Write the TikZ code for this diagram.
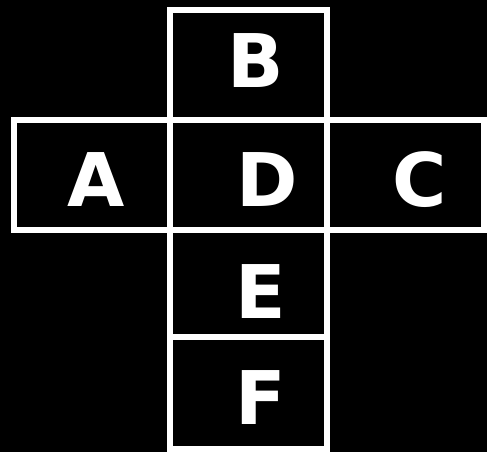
\documentclass[tikz,border=0pt]{standalone}
\usepackage{fontspec}
\setmainfont{DejaVu Sans}
\begin{document}
\begin{tikzpicture}[x=1pt,y=-1pt,
  cell/.style={draw=white,line width=6pt},
  letter/.style={text=white,inner sep=0pt,font=\bfseries\fontsize{74}{74}\selectfont}]
\fill[black] (0,0) rectangle (487,452);
\useasboundingbox (0,0) rectangle (487,452);
\draw[cell] (170,10) rectangle (327,120);
\draw[cell] (13.5,120) rectangle (170,230);
\draw[cell] (170,120) rectangle (327,230);
\draw[cell] (327,120) rectangle (484,230);
\draw[cell] (170,230) rectangle (327,337);
\draw[cell] (170,337) rectangle (327,449);
\node[letter] (b) at (255.5,60.5) {B};
\node[letter] (a) at (96,179.5) {A};
\node[letter] (d) at (267,179.5) {D};
\node[letter] (c) at (420,179.5) {C};
\node[letter] (e) at (261,292) {E};
\node[letter] (f) at (261,398) {F};
\end{tikzpicture}
\end{document}
